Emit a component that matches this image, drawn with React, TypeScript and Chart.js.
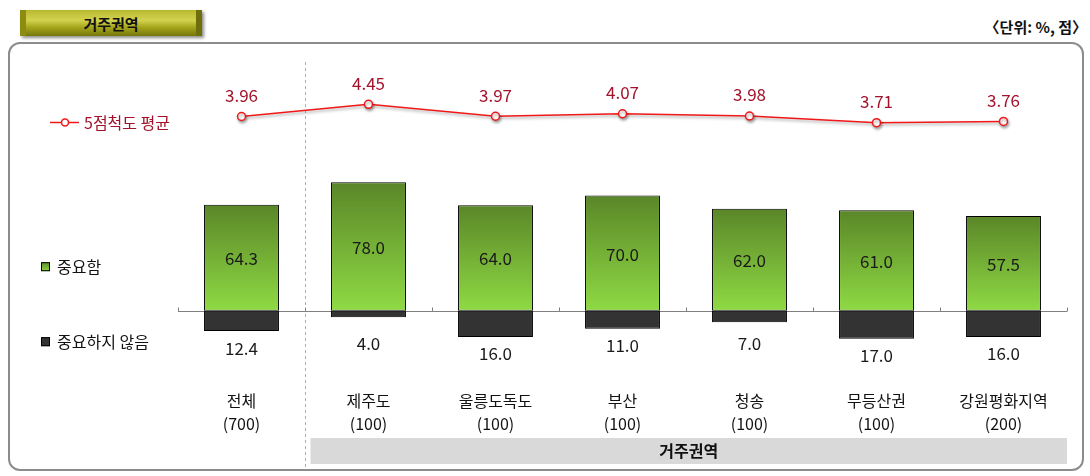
import React, { useEffect, useRef } from 'react';
import { Chart, registerables } from 'chart.js';

Chart.register(...registerables);

const categories = ['전체', '제주도', '울릉도독도', '부산', '청송', '무등산권', '강원평화지역'];
const sampleSizes = ['(700)', '(100)', '(100)', '(100)', '(100)', '(100)', '(200)'];
const importantValues = [64.3, 78.0, 64.0, 70.0, 62.0, 61.0, 57.5];
const notImportantValues = [12.4, 4.0, 16.0, 11.0, 7.0, 17.0, 16.0];
const averageScores = [3.96, 4.45, 3.97, 4.07, 3.98, 3.71, 3.76];
const seriesNames = ['5점척도 평균', '중요함', '중요하지 않음'];
const groupLabel = '거주권역';
const titleText = '거주권역';
const unitText = '〈단위: %, 점〉';

const FONT = '"Noto Sans CJK KR", "Noto Sans", sans-serif';
const LINE_RED = '#f01818';
const LABEL_RED = '#a3122b';
const GREEN_TOP = '#5a8628';
const GREEN_BOTTOM = '#8fda44';
const DARK = '#333333';

function greenGradient(ctx: any, top: number, bottom: number) {
  const g = ctx.createLinearGradient(0, top, 0, bottom);
  g.addColorStop(0, GREEN_TOP);
  g.addColorStop(1, GREEN_BOTTOM);
  return g;
}

const overlayPlugin = {
  id: 'overlay',
  beforeDatasetsDraw(chart: any) {
    const { ctx, chartArea, scales } = chart;
    const xs = scales.x;
    const ys = scales.y;
    const step = xs.getPixelForValue(1) - xs.getPixelForValue(0);
    const y0 = Math.round(ys.getPixelForValue(0)) + 0.5;
    const divX = Math.round(xs.getPixelForValue(0) + step / 2) + 0.5;
    ctx.save();
    ctx.strokeStyle = '#b5ab98';
    ctx.lineWidth = 1;
    ctx.setLineDash([3, 3]);
    ctx.beginPath();
    ctx.moveTo(divX, chartArea.top + 2);
    ctx.lineTo(divX, chartArea.bottom + 90);
    ctx.stroke();
    ctx.setLineDash([]);
    ctx.strokeStyle = '#808080';
    ctx.beginPath();
    ctx.moveTo(chartArea.left, y0);
    ctx.lineTo(chartArea.right, y0);
    ctx.stroke();
    for (let i = 0; i <= categories.length; i++) {
      const tx = Math.round(xs.getPixelForValue(0) - step / 2 + i * step) + 0.5;
      ctx.beginPath();
      ctx.moveTo(tx, y0);
      ctx.lineTo(tx, y0 - 4);
      ctx.stroke();
    }
    const bandLeft = divX + 5;
    const bandTop = chartArea.bottom + 58;
    ctx.fillStyle = '#d9d9d9';
    ctx.fillRect(bandLeft, bandTop, chartArea.right - bandLeft, 26);
    ctx.fillStyle = '#111';
    ctx.font = `bold 16px ${FONT}`;
    ctx.textAlign = 'center';
    ctx.textBaseline = 'middle';
    ctx.fillText(groupLabel, (bandLeft + chartArea.right) / 2, bandTop + 13);
    ctx.restore();
  },
  beforeDatasetDraw(chart: any, args: any) {
    if (args.meta.type === 'line') {
      const ctx = chart.ctx;
      ctx.save();
      ctx.shadowColor = 'rgba(0,0,0,0.35)';
      ctx.shadowBlur = 3;
      ctx.shadowOffsetX = 1;
      ctx.shadowOffsetY = 2;
    }
  },
  afterDatasetDraw(chart: any, args: any) {
    if (args.meta.type === 'line') {
      chart.ctx.restore();
    }
  },
  afterDatasetsDraw(chart: any) {
    const { ctx, scales } = chart;
    const xs = scales.x;
    const ys = scales.y;
    const y2 = scales.y2;
    ctx.save();
    ctx.textAlign = 'center';
    ctx.textBaseline = 'middle';
    ctx.font = `17px ${FONT}`;
    categories.forEach((_, i) => {
      const cx = xs.getPixelForValue(i);
      const top = ys.getPixelForValue(importantValues[i]);
      const zero = ys.getPixelForValue(0);
      ctx.fillStyle = '#1a1a1a';
      ctx.fillText(importantValues[i].toFixed(1), cx, (top + zero) / 2 + 1);
      const bottom = ys.getPixelForValue(-notImportantValues[i]);
      const ly = Math.max(bottom + 17, zero + 33);
      ctx.fillText(notImportantValues[i].toFixed(1), cx, ly);
      const py = y2.getPixelForValue(averageScores[i]);
      ctx.fillStyle = LABEL_RED;
      ctx.fillText(averageScores[i].toFixed(2), cx, py - 21);
    });

    const ly0 = y2.getPixelForValue(averageScores[0]) + 6;
    ctx.strokeStyle = LINE_RED;
    ctx.lineWidth = 1.5;
    ctx.beginPath();
    ctx.moveTo(50, ly0);
    ctx.lineTo(79, ly0);
    ctx.stroke();
    ctx.beginPath();
    ctx.arc(65, ly0, 3.5, 0, Math.PI * 2);
    ctx.fillStyle = '#fff';
    ctx.fill();
    ctx.stroke();
    ctx.textAlign = 'left';
    ctx.font = `16px ${FONT}`;
    ctx.fillStyle = LABEL_RED;
    ctx.fillText(seriesNames[0], 84, ly0);

    const zero = ys.getPixelForValue(0);
    const g1 = zero - 44;
    ctx.fillStyle = greenGradient(ctx, g1 - 5, g1 + 5);
    ctx.fillRect(41, g1 - 4.5, 9, 9);
    ctx.strokeStyle = '#000';
    ctx.lineWidth = 1;
    ctx.strokeRect(41.5, g1 - 4, 8, 8);
    ctx.fillStyle = '#111';
    ctx.fillText(seriesNames[1], 57, g1);

    const g2 = zero + 31;
    ctx.fillStyle = DARK;
    ctx.fillRect(41, g2 - 4.5, 9, 9);
    ctx.strokeRect(41.5, g2 - 4, 8, 8);
    ctx.fillStyle = '#111';
    ctx.fillText(seriesNames[2], 57, g2);
    ctx.restore();
  },
};

export default function App() {
  const canvasRef = useRef<HTMLCanvasElement | null>(null);

  useEffect(() => {
    const canvas = canvasRef.current;
    if (!canvas) return;
    const chart = new Chart(canvas, {
      type: 'bar',
      data: {
        labels: categories.map((c, i) => [c, sampleSizes[i]]),
        datasets: [
          {
            type: 'bar',
            label: seriesNames[1],
            data: importantValues,
            backgroundColor: (c: any) => {
              const chart = c.chart;
              if (!chart.chartArea || c.raw == null) return GREEN_BOTTOM;
              const ys = chart.scales.y;
              return greenGradient(chart.ctx, ys.getPixelForValue(c.raw), ys.getPixelForValue(0));
            },
            borderColor: '#000',
            borderWidth: 1,
            borderSkipped: false,
            categoryPercentage: 1,
            barPercentage: 0.59,
            stack: 's',
            yAxisID: 'y',
            order: 2,
          },
          {
            type: 'bar',
            label: seriesNames[2],
            data: notImportantValues.map((v) => -v),
            backgroundColor: DARK,
            borderColor: '#000',
            borderWidth: 1,
            borderSkipped: false,
            categoryPercentage: 1,
            barPercentage: 0.59,
            stack: 's',
            yAxisID: 'y',
            order: 2,
          },
          {
            type: 'line',
            label: seriesNames[0],
            data: averageScores,
            borderColor: LINE_RED,
            borderWidth: 1.5,
            pointRadius: 4,
            pointBorderWidth: 1.5,
            pointBackgroundColor: '#ffffff',
            pointBorderColor: LINE_RED,
            tension: 0,
            yAxisID: 'y2',
            order: 1,
          } as any,
        ],
      },
      options: {
        responsive: false,
        devicePixelRatio: 1,
        animation: false,
        layout: { padding: { left: 178, right: 23, top: 60, bottom: 0 } },
        plugins: { legend: { display: false }, tooltip: { enabled: false } },
        scales: {
          x: {
            stacked: true,
            display: true,
            afterFit: (s: any) => {
              s.height = 96;
            },
            grid: { display: false, drawTicks: false },
            border: { display: false },
            ticks: {
              color: '#111',
              padding: 9,
              maxRotation: 0,
              autoSkip: false,
              font: { family: FONT, size: 16, lineHeight: 1.45 },
            },
          },
          y: { stacked: true, display: false, min: -42.1, max: 152.3 },
          y2: { display: false, min: -6.622, max: 6.229, position: 'right' },
        },
      } as any,
      plugins: [overlayPlugin],
    });
    return () => chart.destroy();
  }, []);

  return (
    <div style={{ position: 'absolute', left: 0, top: 0, width: 1090, height: 476, background: '#fff', overflow: 'hidden', fontFamily: FONT }}>
      <div
        style={{
          position: 'absolute',
          left: 8,
          top: 42,
          width: 1076,
          height: 429,
          border: '2px solid #8c8c8c',
          borderRadius: 12,
          boxSizing: 'border-box',
        }}
      />
      <div
        style={{
          position: 'absolute',
          left: 20,
          top: 10,
          width: 182,
          height: 26,
          background: 'linear-gradient(to bottom, #b8b830 0%, #d2d24e 40%, #a8a81e 65%, #76760a 100%)',
          borderLeft: '6px solid #8c8c12',
          borderRight: '6px solid #6e6e0a',
          boxSizing: 'border-box',
          boxShadow: '2px 2px 3px rgba(0,0,0,0.45)',
          display: 'flex',
          alignItems: 'center',
          justifyContent: 'center',
          fontWeight: 'bold',
          fontSize: 15,
          color: '#111',
        }}
      >
        {titleText}
      </div>
      <div
        style={{
          position: 'absolute',
          right: 3,
          top: 16,
          fontSize: 15,
          fontWeight: 'bold',
          color: '#111',
          whiteSpace: 'nowrap',
          lineHeight: '22px',
        }}
      >
        {unitText}
      </div>
      <canvas
        ref={canvasRef}
        width={1090}
        height={476}
        style={{ position: 'absolute', left: 0, top: 0, width: 1090, height: 476 }}
      />
    </div>
  );
}
